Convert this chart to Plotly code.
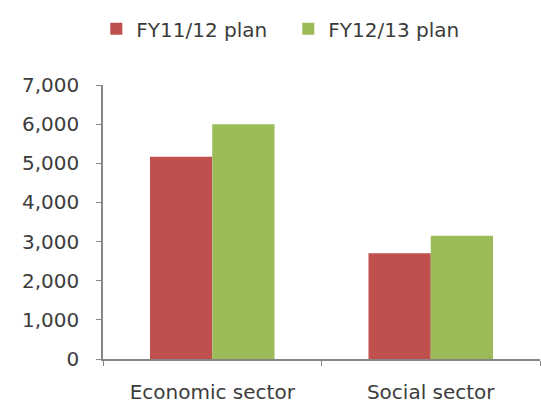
import plotly.graph_objects as go

categories = ["Economic sector", "Social sector"]
fy11_12 = [5170, 2700]
fy12_13 = [6000, 3150]
series_names = ["FY11/12 plan", "FY12/13 plan"]
tick_vals = [0, 1000, 2000, 3000, 4000, 5000, 6000, 7000]
tick_text = ["0", "1,000", "2,000", "3,000", "4,000", "5,000", "6,000", "7,000"]

fig = go.Figure()
fig.add_trace(go.Bar(x=categories, y=fy11_12, name=series_names[0],
                     marker=dict(color="#C0504D", line=dict(width=0))))
fig.add_trace(go.Bar(x=categories, y=fy12_13, name=series_names[1],
                     marker=dict(color="#9BBB59", line=dict(width=0))))

fig.update_layout(
    width=541, height=403,
    margin=dict(l=103, r=1, t=85, b=44, autoexpand=False),
    paper_bgcolor="white", plot_bgcolor="white",
    barmode="group", bargap=0.43, bargroupgap=0,
    font=dict(family="DejaVu Sans, sans-serif", size=20, color="#3c3c3c"),
    legend=dict(orientation="h", xref="container", yref="container",
                x=0.178, y=0.977, xanchor="left", yanchor="top",
                font=dict(size=20), itemwidth=30, entrywidth=147, tracegroupgap=0),
    showlegend=True,
)
fig.update_xaxes(showline=True, linecolor="#868686", linewidth=1.5, automargin=False,
                 ticks="outside", tickson="boundaries", ticklen=5, tickcolor="#868686",
                 ticklabelstandoff=14, showgrid=False, tickfont=dict(size=20))
fig.update_yaxes(range=[0, 7000], tickvals=tick_vals, ticktext=tick_text, automargin=False,
                 showline=True, linecolor="#868686", linewidth=1.5,
                 ticks="outside", ticklen=5, tickcolor="#868686",
                 ticklabelstandoff=13, showgrid=False, zeroline=False, tickfont=dict(size=20))

fig.write_html("out.html", config={"displayModeBar": False},
               post_script="document.body.style.margin='0';")
